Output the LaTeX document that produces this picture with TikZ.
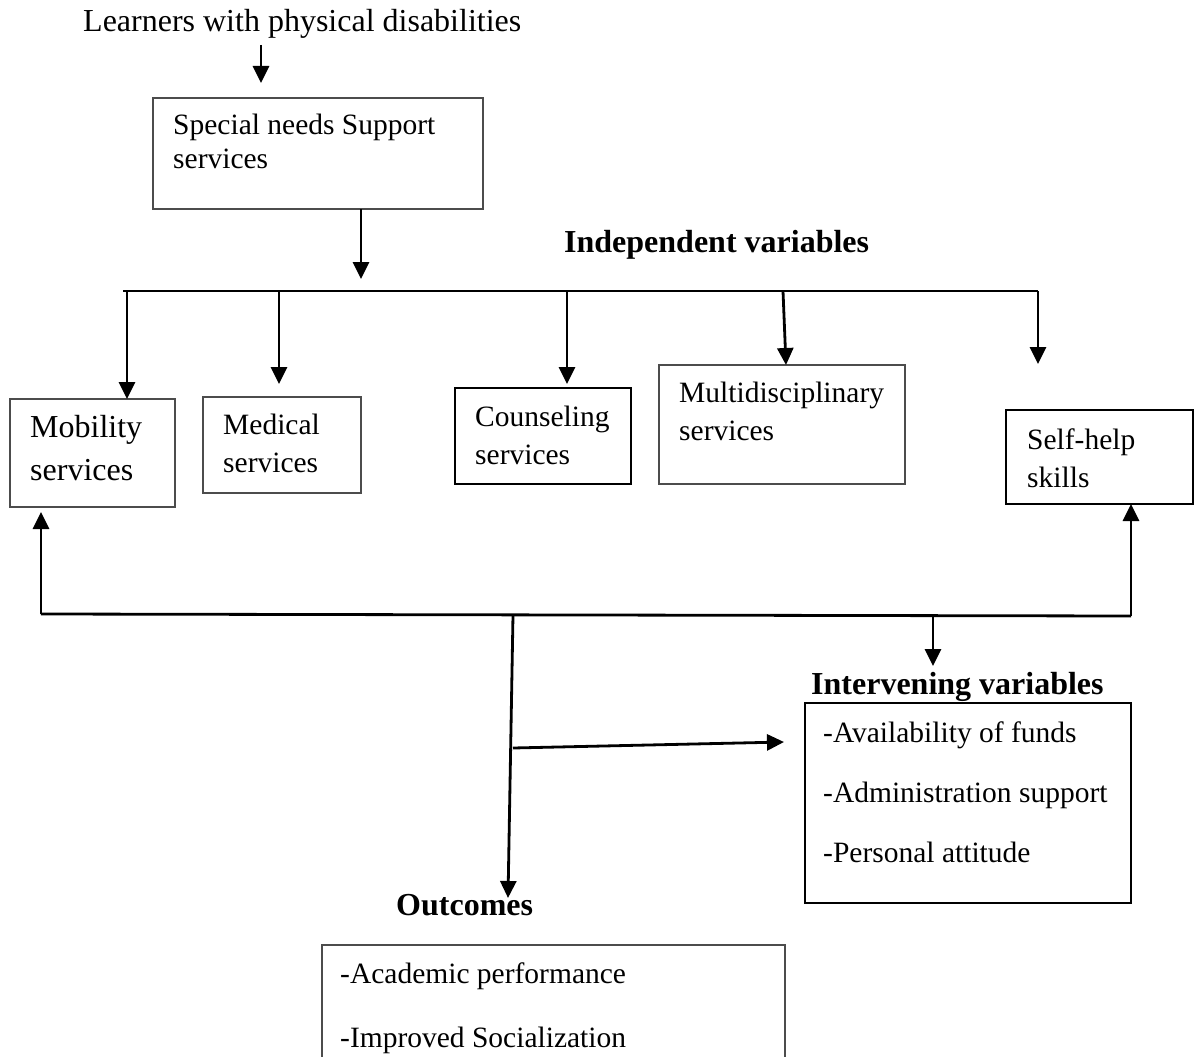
\documentclass[tikz,border=0pt]{standalone}
\usepackage{fontspec}
\setmainfont{Liberation Serif}
\usetikzlibrary{arrows.meta}
\begin{document}
\begin{tikzpicture}[x=1pt,y=-1pt,
  thinbox/.style={draw=black!70, line width=1.4pt, inner sep=0pt, outer sep=0pt, anchor=north west},
  thickbox/.style={draw=black, line width=2.2pt, inner sep=0pt, outer sep=0pt, anchor=north west},
  txt/.style={anchor=base west, inner sep=0pt, font=\fontsize{29.5}{34}\selectfont},
  big/.style={anchor=base west, inner sep=0pt, font=\fontsize{32}{38}\selectfont},
  head/.style={anchor=base west, inner sep=0pt, font=\fontsize{32}{38}\selectfont\bfseries},
  conn/.style={line width=2.8pt},
  arr/.style={conn, -{Triangle[length=17pt,width=16pt]}},
]
\useasboundingbox (0,0) rectangle (1195,1057);

% boxes
\node[thinbox, minimum width=330pt, minimum height=111pt] (sns) at (153,98) {};
\node[thinbox, minimum width=165pt, minimum height=108pt] (mob) at (10,399) {};
\node[thinbox, minimum width=158pt, minimum height=96pt] (med) at (203,397) {};
\node[thickbox, minimum width=176pt, minimum height=96pt] (cou) at (455,388) {};
\node[thinbox, minimum width=246pt, minimum height=119pt] (mul) at (659,365) {};
\node[thickbox, minimum width=187pt, minimum height=94pt] (slf) at (1006,410) {};
\node[thickbox, minimum width=326pt, minimum height=200pt] (itv) at (805,703) {};
\node[thinbox, minimum width=463pt, minimum height=125pt] (out) at (322,945) {};

% texts
\node[big] (learn) at (83,32) {Learners with physical disabilities};
\node[txt] (snst1) at (173,135) {Special needs Support};
\node[txt] (snst2) at (173,168) {services};
\node[head] (indep) at (564,252) {Independent variables};
\node[big] (mobt1) at (30,437) {Mobility};
\node[big] (mobt2) at (30,480) {services};
\node[txt] (medt1) at (223,434) {Medical};
\node[txt] (medt2) at (223,472) {services};
\node[txt] (cout1) at (475,426) {Counseling};
\node[txt] (cout2) at (475,464) {services};
\node[txt] (mult1) at (679,402) {Multidisciplinary};
\node[txt] (mult2) at (679,440) {services};
\node[txt] (slft1) at (1027,449) {Self-help};
\node[txt] (slft2) at (1027,487) {skills};
\node[head] (itvh) at (811,694) {Intervening variables};
\node[txt] (itv1) at (823,742) {-Availability of funds};
\node[txt] (itv2) at (823,802) {-Administration support};
\node[txt] (itv3) at (823,862) {-Personal attitude};
\node[head] (outh) at (396,915) {Outcomes};
\node[txt] (out1) at (340,983) {-Academic performance};
\node[txt] (out2) at (340,1047) {-Improved Socialization};

% connectors
\coordinate (a1s) at (261,45);
\coordinate (a1e) at (261,83);
\draw[arr] (a1s) -- (a1e);
\coordinate (b1) at (361,279);
\draw[arr] (sns.south west -| b1) -- (b1);

\coordinate (busL) at (123,291);
\coordinate (busR) at (1038,291);
\draw[conn] (busL) -- (busR);
\coordinate (d1) at (127,291);
\coordinate (d2) at (279,291);
\coordinate (d2e) at (279,384);
\coordinate (d3) at (567,291);
\coordinate (d3e) at (567,384);
\coordinate (d4) at (783,291);
\coordinate (d4e) at (786,365);
\coordinate (d5e) at (1038,364);
\draw[arr] (d1) -- (d1 |- mob.north);
\draw[arr] (d2) -- (d2e);
\draw[arr] (d3) -- (d3e);
\draw[arr] (d4) -- (d4e);
\draw[arr] (busR) -- (d5e);

\coordinate (lpL) at (41,614);
\coordinate (lpLe) at (41,512);
\coordinate (lpR) at (1131,616);
\coordinate (lpM) at (513,615);
\coordinate (lpI) at (933,615);
\coordinate (lpIe) at (933,666);
\coordinate (oute) at (508,898);
\coordinate (hs) at (513,748);
\coordinate (he) at (784,742);
\draw[arr] (lpL) -- (lpLe);
\draw[conn] (lpL) -- (lpR);
\draw[arr] (lpR) -- (lpR |- slf.south);
\draw[arr] (lpI) -- (lpIe);
\draw[arr] (lpM) -- (oute);
\draw[arr] (hs) -- (he);
\end{tikzpicture}
\end{document}
